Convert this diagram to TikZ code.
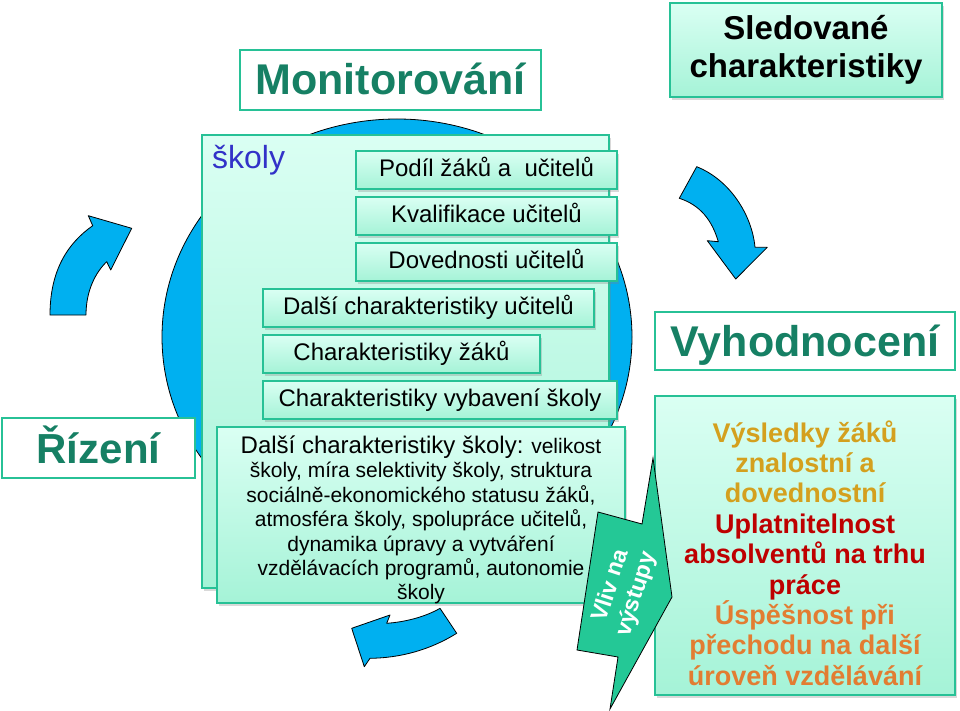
\documentclass[tikz,border=0pt]{standalone}
\usepackage{fontspec}
\setmainfont{Liberation Sans}
\usetikzlibrary{shadows}
\definecolor{cblue}{RGB}{0,176,240}
\definecolor{tealb}{RGB}{39,193,150}
\definecolor{tealt}{RGB}{22,128,100}
\definecolor{mintA}{RGB}{218,255,243}
\definecolor{mintB}{RGB}{165,243,215}
\definecolor{goldt}{RGB}{212,160,30}
\definecolor{dredt}{RGB}{190,0,0}
\definecolor{orngt}{RGB}{226,125,50}
\definecolor{skblue}{RGB}{50,50,200}
\definecolor{vlivc}{RGB}{36,200,150}
\begin{document}
\begin{tikzpicture}[x=1pt,y=-1pt,
  mint/.style={draw=tealb, line width=1.2pt, top color=mintA, bottom color=mintB,
    inner sep=0pt, outer sep=0pt,
    drop shadow={shadow xshift=2pt, shadow yshift=-3pt, opacity=0.3}},
  linebox/.style={mint, text height=18pt, text depth=5pt,
    font=\fontsize{24}{28}\selectfont},
  titlebox/.style={draw=tealb, line width=2.5pt, fill=white, inner sep=0pt,
    outer sep=0pt, text=tealt, text height=30pt, text depth=0pt},
  curvarrow/.style={fill=cblue, draw=black, line width=0.8pt, line join=round}]
\useasboundingbox (0,0) rectangle (960,711);

% central circle
\draw[fill=cblue, draw=black, line width=0.8pt] (397,337) ellipse [x radius=235, y radius=218];

% curved arrows
\draw[curvarrow] (50,315) .. controls (50,270) and (68,243) .. (92.7,225.7)
  -- (88.3,215.7) -- (131.7,228.3) -- (110.7,270) -- (106.7,261.7)
  .. controls (96,272) and (86,290) .. (86,315) -- cycle;
\draw[curvarrow] (696.7,166.7) .. controls (730,180) and (752,215) .. (755,247.3)
  -- (767.3,247.3) -- (735.7,279) -- (707.3,240.7) -- (718.3,241.7)
  .. controls (712,220) and (700,205) .. (679.3,198.3) -- cycle;
\draw[curvarrow] (456.7,633.3) .. controls (430,650) and (400,658) .. (370,658.3)
  -- (364.3,666.7) -- (351.7,628.3) -- (390,615) -- (386.7,623.3)
  .. controls (405,622) and (425,617) .. (440,608.3) -- cycle;

% school box
\node[mint, minimum width=407pt, minimum height=453pt] (skbox) at (405.5,361.5) {};
\node[anchor=west, text=skblue, font=\fontsize{32}{36}\selectfont, inner sep=0pt] (sklab) at (212,160) {školy};

\node[linebox, minimum width=261pt, minimum height=38pt] (pod) at (486.5,170) {Podíl žáků a\ \ učitelů};
\node[linebox, minimum width=261pt, minimum height=38pt] (kval) at (486.5,216) {Kvalifikace učitelů};
\node[linebox, minimum width=261pt, minimum height=38pt] (dov) at (486.5,262) {Dovednosti učitelů};
\node[linebox, minimum width=331pt, minimum height=38pt] (dcu) at (428.5,308) {Další charakteristiky učitelů};
\node[linebox, minimum width=277pt, minimum height=38pt] (chz) at (401.5,354) {Charakteristiky žáků};
\node[linebox, minimum width=354pt, minimum height=38pt] (chv) at (440,400) {Charakteristiky vybavení školy};

\node[mint, minimum width=408pt, minimum height=176pt] (dch) at (421,515) {};
\node[align=center, inner sep=0pt, font=\fontsize{21}{24.4}\selectfont] (dtxt) at (421,520)
  {{\fontsize{24}{24.4}\selectfont Další charakteristiky školy:} velikost\\
   školy, míra selektivity školy, struktura\\
   sociálně-ekonomického statusu žáků,\\
   atmosféra školy, spolupráce učitelů,\\
   dynamika úpravy a vytváření\\
   vzdělávacích programů, autonomie\\
   školy};

% title boxes
\node[titlebox, minimum width=301pt, minimum height=60pt, font=\bfseries\fontsize{43}{48}\selectfont] (mon) at (390.5,80) {Monitorování};
\node[titlebox, minimum width=193pt, minimum height=60pt, font=\bfseries\fontsize{42}{48}\selectfont] (riz) at (98.5,448) {Řízení};
\node[titlebox, minimum width=300pt, minimum height=58pt, font=\bfseries\fontsize{43}{48}\selectfont] (vyh) at (805,341) {Vyhodnocení};

\node[mint, minimum width=272pt, minimum height=94pt] (sled) at (806,50) {};
\node[align=center, inner sep=0pt, font=\bfseries\fontsize{33}{38}\selectfont] (sledt) at (806,50) {Sledované\\charakteristiky};

\node[mint, minimum width=300pt, minimum height=299pt] (vys) at (805,545.5) {};
\node[align=center, inner sep=0pt, font=\bfseries\fontsize{27}{30.4}\selectfont] (vyst) at (805,553)
  {\textcolor{goldt}{Výsledky žáků}\\
   \textcolor{goldt}{znalostní a}\\
   \textcolor{goldt}{dovednostní}\\
   \textcolor{dredt}{Uplatnitelnost}\\
   \textcolor{dredt}{absolventů na trhu}\\
   \textcolor{dredt}{práce}\\
   \textcolor{orngt}{Úspěšnost při}\\
   \textcolor{orngt}{přechodu na další}\\
   \textcolor{orngt}{úroveň vzdělávání}};

% impact arrow (on top)
\draw[fill=vlivc, draw=black, line width=0.8pt, line join=miter]
  (653,458) -- (672,597) -- (610,709) -- (618,657) -- (577,650) -- (598,512) -- (642,524) -- cycle;
\node[rotate=72, align=center, text=white, inner sep=0pt,
  font=\bfseries\fontsize{23}{27}\selectfont] (vliv) at (624,590) {Vliv na\\výstupy};
\end{tikzpicture}
\end{document}
